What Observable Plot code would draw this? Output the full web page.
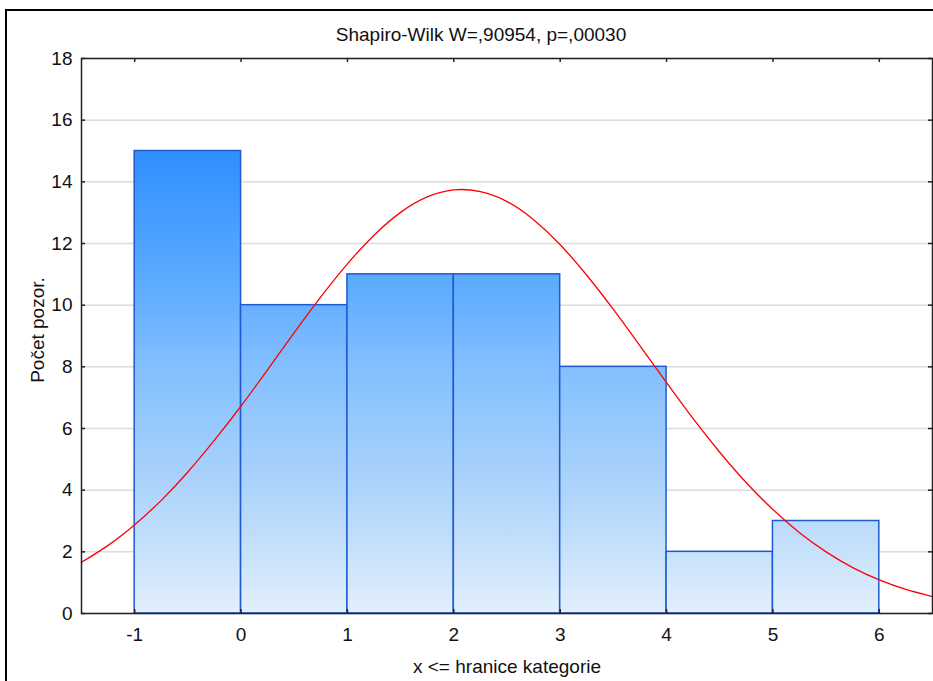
<!DOCTYPE html>
<html>
<head>
<meta charset="utf-8">
<script src="https://cdn.jsdelivr.net/npm/d3@7"></script>
<script src="https://cdn.jsdelivr.net/npm/@observablehq/plot@0.6"></script>
<style>
  html, body { margin: 0; padding: 0; background: #fff; overflow: hidden; }
  #wrap { position: relative; width: 933px; height: 681px; }
  #chart { position: absolute; left: 0; top: 0; }
  #outer { position: absolute; left: 5px; top: 9px; width: 1000px; height: 1000px;
           border-left: 2px solid #000; border-top: 2px solid #000; pointer-events: none; }
</style>
</head>
<body>
<div id="wrap"><div id="chart"></div><div id="outer"></div></div>
<script>
// ---- data ----
const title = "Shapiro-Wilk W=,90954, p=,00030";
const yLabel = "Počet pozor.";
const xLabel = "x <= hranice kategorie";

const binStart = [-1, 0, 1, 2, 3, 4, 5];
const binEnd   = [0, 1, 2, 3, 4, 5, 6];
const counts   = [15, 10, 11, 11, 8, 2, 3];

const xTicks = [-1, 0, 1, 2, 3, 4, 5, 6];
const yTicks = [0, 2, 4, 6, 8, 10, 12, 14, 16, 18];

// expected-normal curve, values
const curveX = [-1.5, -1.25, -1, -0.75, -0.5, -0.25, 0, 0.25, 0.5, 0.75, 1, 1.25, 1.5, 1.75,
                2, 2.25, 2.5, 2.75, 3, 3.25, 3.5, 3.75, 4, 4.25, 4.5, 4.75, 5, 5.25, 5.5,
                5.75, 6, 6.25, 6.5];
const curveY = [1.66, 2.21, 2.88, 3.67, 4.59, 5.62, 6.73, 7.91, 9.11, 10.27, 11.34, 12.27,
                13.01, 13.51, 13.74, 13.68, 13.36, 12.77, 11.96, 10.97, 9.86, 8.68, 7.49,
                6.32, 5.23, 4.24, 3.37, 2.62, 2.00, 1.49, 1.09, 0.78, 0.55];

// gradient stops (by count level) for the bar fill
const gradLevels = [15, 11, 8, 4, 2, 0];
const gradColors = ["#2f8fff", "#5aa9ff", "#82bfff", "#aed4fb", "#c6e1fb", "#e3f0fd"];

const bars = binStart.map((s, i) => ({x1: s, x2: binEnd[i], count: counts[i]}));
const curve = curveX.map((x, i) => ({x, y: curveY[i]}));

const W = 933, H = 681, mL = 81, mR = 1, mT = 58, mB = 68;
const fw = W - mL - mR, fh = H - mT - mB;
const ink = "#222";
const fs = 19;

function gradientDefs(index, scales) {
  const defs = d3.create("svg:defs");
  const g = defs.append("linearGradient")
    .attr("id", "barGrad")
    .attr("gradientUnits", "userSpaceOnUse")
    .attr("x1", 0).attr("x2", 0)
    .attr("y1", scales.y(gradLevels[0]))
    .attr("y2", scales.y(gradLevels[gradLevels.length - 1]));
  const span = gradLevels[0] - gradLevels[gradLevels.length - 1];
  gradLevels.forEach((v, i) => {
    g.append("stop")
      .attr("offset", (gradLevels[0] - v) / span)
      .attr("stop-color", gradColors[i]);
  });
  return defs.node();
}

const chart = Plot.plot({
  width: W, height: H,
  marginLeft: mL, marginRight: mR, marginTop: mT, marginBottom: mB,
  style: {fontFamily: "'Liberation Sans', Arial, sans-serif", fontSize: fs + "px", background: "transparent", color: "#111"},
  x: {domain: [-1.5, 6.5]},
  y: {domain: [0, 18]},
  marks: [
    gradientDefs,
    Plot.gridY(yTicks, {stroke: "#dcdcdc", strokeOpacity: 1, strokeWidth: 1.5}),
    Plot.rectY(bars, {x1: "x1", x2: "x2", y: "count", fill: "url(#barGrad)", stroke: "#1e5ad2", strokeWidth: 1.5}),
    Plot.line(curve, {x: "x", y: "y", stroke: "#ff0000", strokeWidth: 1.3, curve: "natural"}),
    Plot.frame({stroke: ink, strokeWidth: 1.5}),
    Plot.tickX(xTicks, {x: d => d, insetBottom: fh - 4, stroke: ink, strokeWidth: 1.5}),
    Plot.tickX(xTicks, {x: d => d, insetTop: fh - 4, stroke: ink, strokeWidth: 1.5}),
    Plot.tickY(yTicks, {y: d => d, insetRight: fw - 4, stroke: ink, strokeWidth: 1.5}),
    Plot.tickY(yTicks, {y: d => d, insetLeft: fw - 4, stroke: ink, strokeWidth: 1.5}),
    Plot.axisY(yTicks, {tickSize: 0, tickPadding: 9, label: null, fontSize: fs}),
    Plot.axisX(xTicks, {tickSize: 0, tickPadding: 14, label: null, fontSize: fs, tickFormat: d => String(d)}),
    Plot.text([title], {frameAnchor: "top", lineAnchor: "middle", dy: -24, dx: -26, fontSize: fs}),
    Plot.text([yLabel], {frameAnchor: "left", textAnchor: "middle", lineAnchor: "middle", dx: -44, dy: -6, rotate: -90, fontSize: fs}),
    Plot.text([xLabel], {frameAnchor: "bottom", lineAnchor: "middle", dy: 53, fontSize: fs})
  ]
});
document.getElementById("chart").append(chart);
</script>
</body>
</html>
